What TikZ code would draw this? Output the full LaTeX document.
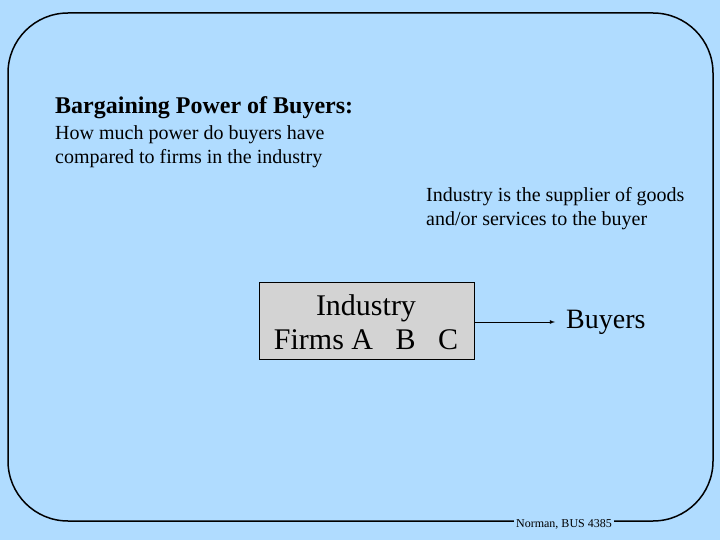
\documentclass[tikz,border=0pt]{standalone}
\usepackage{fontspec}
\setmainfont{Liberation Serif}
\definecolor{bg}{HTML}{B0DCFF}
\definecolor{boxg}{HTML}{D3D3D3}
\begin{document}
\begin{tikzpicture}[x=1pt,y=-1pt,
  txt/.style={inner sep=0pt,anchor=west,align=left},
  arr/.style={-latex,thick}]
\useasboundingbox (0,0) rectangle (720,540);
\fill[bg] (0,0) rectangle (720,540);
\draw[line width=1.5pt,rounded corners=60pt] (8,13) rectangle (713,521);
\node[fill=bg,inner sep=2pt,font=\fontsize{12}{14}\selectfont] (foot) at (564,524) {Norman, BUS 4385};
\node[txt,font=\fontsize{24}{28}\selectfont\bfseries] (title) at (55,108) {Bargaining Power of Buyers:};
\node[txt,font=\fontsize{20}{24}\selectfont] (sub) at (55,147) {How much power do buyers have\\compared to firms in the industry};
\node[txt,font=\fontsize{20}{24}\selectfont] (sup) at (426,209) {Industry is the supplier of goods\\and/or services to the buyer};
\node[draw,fill=boxg,minimum width=215pt,minimum height=77pt,inner sep=0pt] (ind) at (366.5,320.5) {};
\node[font=\fontsize{30}{34}\selectfont,align=center] at (366,322) {Industry\\Firms A\ \ \ B\ \ \ C};
\node[font=\fontsize{28}{30}\selectfont,inner sep=0pt,anchor=west] (buy) at (566,322) {Buyers};
\draw[arr] (ind.east |- 0,322) -- (555,322);
\end{tikzpicture}
\end{document}
